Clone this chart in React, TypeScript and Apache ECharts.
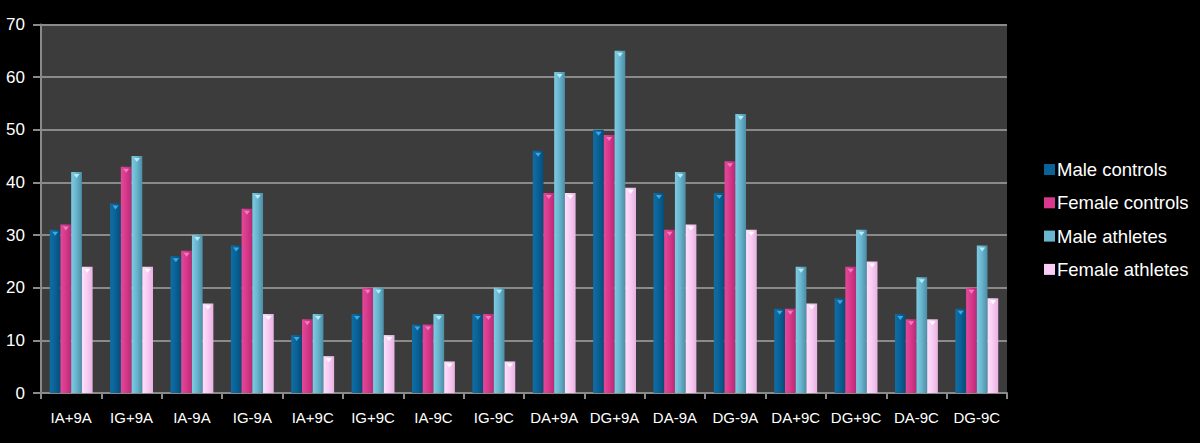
import React, { useEffect, useRef } from "react";
import * as echarts from "echarts";

const categories = ["IA+9A", "IG+9A", "IA-9A", "IG-9A", "IA+9C", "IG+9C", "IA-9C", "IG-9C", "DA+9A", "DG+9A", "DA-9A", "DG-9A", "DA+9C", "DG+9C", "DA-9C", "DG-9C"];
const maleControls = [31, 36, 26, 28, 11, 15, 13, 15, 46, 50, 38, 38, 16, 18, 15, 16];
const femaleControls = [32, 43, 27, 35, 14, 20, 13, 15, 38, 49, 31, 44, 16, 24, 14, 20];
const maleAthletes = [42, 45, 30, 38, 15, 20, 15, 20, 61, 65, 42, 53, 24, 31, 22, 28];
const femaleAthletes = [24, 24, 17, 15, 7, 11, 6, 6, 38, 39, 32, 31, 17, 25, 14, 18];
const seriesNames = ["Male controls", "Female controls", "Male athletes", "Female athletes"];
const yTicks = [0, 10, 20, 30, 40, 50, 60, 70];

const FONT = "'Liberation Sans', Arial, Helvetica, sans-serif";

function grad(c1: string, c2: string, c3: string) {
  return new echarts.graphic.LinearGradient(0, 0, 1, 0, [
    { offset: 0, color: c1 },
    { offset: 0.45, color: c2 },
    { offset: 1, color: c3 },
  ]);
}

export default function App() {
  const ref = useRef<HTMLDivElement>(null);
  useEffect(() => {
    if (!ref.current) return;
    const chart = echarts.init(ref.current, null, { renderer: "svg" });
    const fills = [
      grad("#0f6ea6", "#0a6398", "#074c77"),
      grad("#e2499b", "#d8398b", "#b92a76"),
      grad("#7ecbe2", "#6bb6cf", "#4a8ea6"),
      grad("#fde0fb", "#f9cdf4", "#e8b2e1"),
    ];
    const capColors = ["#3ea6e0", "#f27ac0", "#b4ecf8", "#ffffff"];
    const legendColors = ["#0a6398", "#d8398b", "#6bb6cf", "#f9cdf4"];
    const data = [maleControls, femaleControls, maleAthletes, femaleAthletes];
    const bars = data.map((d, i) => ({
      name: seriesNames[i],
      type: "bar",
      data: d,
      barGap: "0%",
      barCategoryGap: "29%",
      itemStyle: { color: fills[i] },
      z: 2,
    }));
    const caps = data.map((d, i) => ({
      name: seriesNames[i] + " cap",
      type: "pictorialBar",
      data: d,
      barGap: "0%",
      barCategoryGap: "29%",
      symbol: "triangle",
      symbolRotate: 180,
      symbolSize: [6, 4],
      symbolPosition: "end",
      symbolOffset: [0, "50%"],
      itemStyle: { color: capColors[i] },
      silent: true,
      z: 3,
    }));
    chart.setOption({
      animation: false,
      backgroundColor: "#000000",
      textStyle: { fontFamily: FONT },
      grid: {
        left: 41,
        top: 24.5,
        width: 966,
        bottom: 50,
        show: true,
        backgroundColor: "#3c3c3c",
        borderWidth: 0,
      },
      legend: {
        orient: "vertical",
        left: 1039,
        top: 155,
        itemWidth: 11,
        itemHeight: 11,
        itemGap: 14.3,
        icon: "rect",
        textStyle: { color: "#ffffff", fontSize: 18.5, fontFamily: FONT, padding: [0, 0, 0, -3] },
        data: seriesNames.map((n, i) => ({ name: n, itemStyle: { color: legendColors[i] } })),
      },
      xAxis: {
        type: "category",
        data: categories,
        axisLine: { show: true, lineStyle: { color: "#8a8a8a", width: 2 } },
        axisTick: { show: true, alignWithLabel: false, length: 6, lineStyle: { color: "#8a8a8a", width: 2 } },
        axisLabel: { color: "#ffffff", fontSize: 15, margin: 17, fontFamily: FONT, interval: 0 },
        splitLine: { show: false },
      },
      yAxis: {
        type: "value",
        min: 0,
        max: 70,
        interval: 10,
        axisLine: { show: true, lineStyle: { color: "#8a8a8a", width: 2 } },
        axisTick: { show: true, length: 8, lineStyle: { color: "#8a8a8a", width: 2 } },
        axisLabel: {
          color: "#ffffff",
          fontSize: 17,
          margin: 16,
          fontFamily: FONT,
          formatter: (v: number) => (yTicks.includes(v) ? String(v) : ""),
        },
        splitLine: { show: true, lineStyle: { color: "#8a8a8a", width: 2 } },
      },
      series: [...bars, ...caps],
    });
    return () => chart.dispose();
  }, []);
  return (
    <div
      ref={ref}
      style={{ position: "fixed", left: 0, top: 0, width: 1200, height: 443 }}
    />
  );
}
